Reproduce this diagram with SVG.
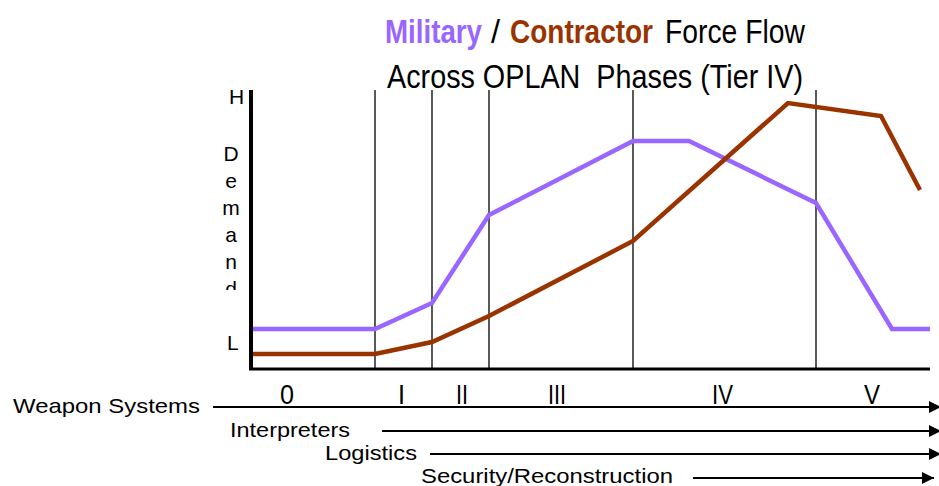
<svg xmlns="http://www.w3.org/2000/svg" width="939" height="486" viewBox="0 0 939 486">
<defs>
<style>
text{font-family:"Liberation Sans",Arial,sans-serif;fill:#000}
.t{font-size:33px}
.b{font-weight:bold}
.ph{font-size:28px}
.lb{font-size:21px}
.ax{font-size:21px}
.vl{stroke:#000;stroke-width:1.3;fill:none}
.arr{stroke:#000;stroke-width:2;fill:none;marker-end:url(#ah)}
.mil{stroke:#9966FF;stroke-width:4.5;fill:none;stroke-linejoin:miter}
.con{stroke:#993300;stroke-width:4.5;fill:none;stroke-linejoin:miter}
</style>
<marker id="ah" viewBox="0 0 10 10" refX="10" refY="5" markerWidth="6" markerHeight="6" markerUnits="strokeWidth" orient="auto">
<path d="M0,0 L10,5 L0,10 z" fill="#000"/>
</marker>
<clipPath id="dc"><rect x="200" y="130" width="50" height="160"/></clipPath>
</defs>
<g id="title">
<text class="t b" x="385" y="43" style="fill:#9966FF" textLength="97" lengthAdjust="spacingAndGlyphs">Military</text>
<text class="t" x="491" y="43" textLength="9" lengthAdjust="spacingAndGlyphs">/</text>
<text class="t b" x="510" y="43" style="fill:#993300" textLength="143" lengthAdjust="spacingAndGlyphs">Contractor</text>
<text class="t" x="665" y="43" textLength="140" lengthAdjust="spacingAndGlyphs">Force Flow</text>
<text class="t" x="387" y="88" textLength="416" lengthAdjust="spacingAndGlyphs" xml:space="preserve">Across OPLAN  Phases (Tier IV)</text>
</g>
<g id="phase-lines">
<line class="vl" x1="375" y1="90" x2="375" y2="368"/>
<line class="vl" x1="432" y1="90" x2="432" y2="368"/>
<line class="vl" x1="489" y1="90" x2="489" y2="368"/>
<line class="vl" x1="633" y1="90" x2="633" y2="368"/>
<line class="vl" x1="816" y1="90" x2="816" y2="368"/>
</g>
<g id="military-curve">
<polyline class="mil" points="250,329 375,329 432,303 489,215 633,141 689,141 816,203 892,329 930,329"/>
</g>
<g id="contractor-curve">
<polyline class="con" points="250,354 375,354 432,342 489,316 633,241 788,103 881,116 920,190"/>
</g>
<g id="axes">
<line x1="251" y1="90" x2="251" y2="370" stroke="#000" stroke-width="4"/>
<line x1="249" y1="369" x2="930" y2="369" stroke="#000" stroke-width="3"/>
<text class="ax" x="229" y="104">H</text>
<text class="ax" x="227" y="350">L</text>
<g clip-path="url(#dc)">
<text class="ax" x="231" y="161" text-anchor="middle">D</text>
<text class="ax" x="231" y="188" text-anchor="middle">e</text>
<text class="ax" x="231" y="215" text-anchor="middle">m</text>
<text class="ax" x="231" y="242" text-anchor="middle">a</text>
<text class="ax" x="231" y="269" text-anchor="middle">n</text>
<text class="ax" x="231" y="296" text-anchor="middle">d</text>
</g>
</g>
<g id="phase-labels">
<text class="ph" x="280" y="404" textLength="14" lengthAdjust="spacingAndGlyphs">0</text>
<text class="ph" x="398" y="404" textLength="7" lengthAdjust="spacingAndGlyphs">I</text>
<text class="ph" x="456" y="404" textLength="12" lengthAdjust="spacingAndGlyphs">II</text>
<text class="ph" x="548" y="404" textLength="18" lengthAdjust="spacingAndGlyphs">III</text>
<text class="ph" x="712" y="404" textLength="21" lengthAdjust="spacingAndGlyphs">IV</text>
<text class="ph" x="864" y="404" textLength="16" lengthAdjust="spacingAndGlyphs">V</text>
</g>
<g id="weapon-systems">
<text class="lb" x="13" y="413" textLength="187" lengthAdjust="spacingAndGlyphs">Weapon Systems</text>
</g>
<g id="interpreters">
<text class="lb" x="230" y="437" textLength="120" lengthAdjust="spacingAndGlyphs">Interpreters</text>
</g>
<g id="logistics">
<text class="lb" x="325" y="460" textLength="92" lengthAdjust="spacingAndGlyphs">Logistics</text>
</g>
<g id="security">
<text class="lb" x="421" y="483" textLength="252" lengthAdjust="spacingAndGlyphs">Security/Reconstruction</text>
</g>
<g id="connectors">
<line class="arr" x1="213" y1="407" x2="941" y2="407"/>
<line class="arr" x1="382" y1="431" x2="941" y2="431"/>
<line class="arr" x1="430" y1="454" x2="941" y2="454"/>
<line class="arr" x1="693" y1="478" x2="934" y2="478"/>
</g>
</svg>
